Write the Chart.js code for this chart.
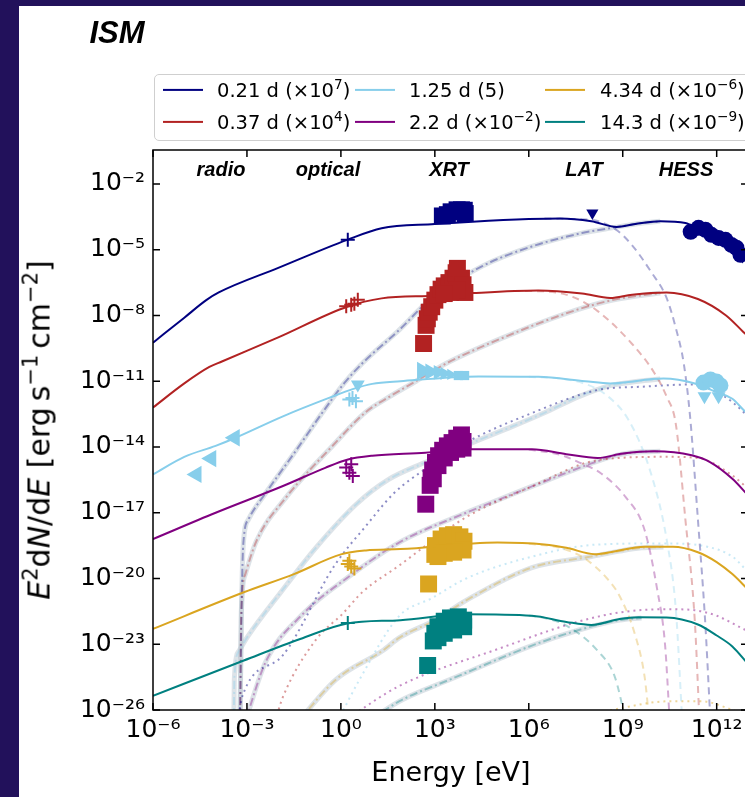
<!DOCTYPE html>
<html><head><meta charset="utf-8">
<script src="https://cdn.jsdelivr.net/npm/chart.js@4.4.1/dist/chart.umd.min.js"></script>
<style>
html,body{margin:0;padding:0;width:745px;height:797px;overflow:hidden;background:#22115b;}
#white{position:absolute;left:19px;top:6px;width:800px;height:800px;background:#fff;}
#c{position:absolute;left:0;top:0;}
.lbl{position:absolute;font-family:"Liberation Sans",Arial,sans-serif;font-weight:bold;font-style:italic;color:#000;white-space:nowrap;transform:translate(-50%,-50%);}
.dv{position:absolute;font-family:"DejaVu Sans",sans-serif;color:#000;white-space:nowrap;}
sup{font-size:0.7em;vertical-align:0.55em;line-height:0;}
#legend{position:absolute;left:154px;top:74px;width:620px;height:65px;border:1px solid #cfcfcf;border-radius:5px;background:#fff;font-family:"DejaVu Sans",sans-serif;font-size:19.5px;}
.li{position:absolute;white-space:nowrap;transform:translateY(-50%);}
.sw{position:absolute;height:2.2px;width:40px;transform:translateY(-50%);}
</style></head>
<body>
<div id="white"></div>
<canvas id="c" width="760" height="797" style="width:760px;height:797px"></canvas>
<div class="lbl" style="left:117px;top:33px;font-size:31px;">ISM</div>
<div id="legend"></div>
<div class="lbl" style="left:221px;top:169px;font-size:20px;">radio</div>
<div class="lbl" style="left:328px;top:169px;font-size:20px;">optical</div>
<div class="lbl" style="left:449px;top:169px;font-size:20px;">XRT</div>
<div class="lbl" style="left:584px;top:169px;font-size:20px;">LAT</div>
<div class="lbl" style="left:686px;top:169px;font-size:20px;">HESS</div>
<div class="dv" style="left:39px;top:430px;font-size:30px;transform:translate(-50%,-50%) rotate(-90deg);"><i>E</i><sup>2</sup>d<i>N</i>/d<i>E</i> [erg&#8201;s<sup>−1</sup>&#8201;cm<sup>−2</sup>]</div>
<div class="dv" style="left:451px;top:771px;font-size:27px;transform:translate(-50%,-50%);">Energy [eV]</div>
<script>
// ---- values, as [log10(E / eV), log10(E^2 dN/dE)] ----
const xTickExp = [-6, -3, 0, 3, 6, 9, 12];
const yTickExp = [-26, -23, -20, -17, -14, -11, -8, -5, -2];
const epochLabels = ['0.21 d (×10<sup>7</sup>)', '0.37 d (×10<sup>4</sup>)', '1.25 d (5)', '2.2 d (×10<sup>−2</sup>)', '4.34 d (×10<sup>−6</sup>)', '14.3 d (×10<sup>−9</sup>)'];
const epochColors = ['#000080', '#b22222', '#87ceeb', '#800080', '#daa520', '#008080'];

// total model (solid)
const navyTotal = [[-6,-9.24],[-5,-8.1],[-4.3,-7.3],[-3.9,-6.95],[-2,-5.83],[0.2,-4.55],[1.3,-4.02],[3.0,-3.83],[4.2,-3.72],[6.0,-3.6],[7.0,-3.57],[8.0,-3.7],[8.8,-3.96],[9.4,-3.83],[10.2,-3.7],[11.0,-3.78],[11.4,-4.05],[12.0,-4.55],[12.5,-5.0],[13,-5.5]];
const redTotal = [[-6,-12.2],[-5,-11.1],[-4.2,-10.35],[-3.8,-10.1],[-2,-9.0],[0.2,-7.6],[1.3,-7.22],[3,-7.1],[4.2,-6.98],[6.3,-6.86],[7.7,-7.0],[8.6,-7.2],[9.3,-7.05],[10.4,-6.95],[11.4,-7.25],[12.3,-8.0],[12.85,-8.75],[13,-8.95]];
const skyTotal = [[-6,-15.25],[-5,-14.45],[-4,-13.95],[-3.4,-13.6],[-1.85,-12.6],[-0.36,-11.75],[0.4,-11.35],[1.0,-11.12],[1.9,-11.0],[4.4,-10.78],[6.3,-10.8],[7.8,-11.0],[8.6,-11.1],[10.3,-10.88],[11.3,-11.1],[12.0,-11.5],[12.5,-11.8],[12.85,-12.3],[13,-12.5]];
const purpleTotal = [[-6,-18.2],[-4,-17.0],[-1.85,-15.78],[-0.5,-14.95],[0.2,-14.58],[1,-14.4],[2.7,-14.26],[4,-14.1],[6.1,-14.1],[7.2,-14.33],[8.2,-14.5],[9,-14.3],[10,-14.2],[11.2,-14.38],[11.8,-14.7],[12.5,-15.45],[13,-16.2]];
const goldTotal = [[-6,-22.3],[-3.1,-20.63],[-1.5,-19.8],[0,-18.9],[0.8,-18.72],[1.9,-18.66],[5,-18.36],[6.5,-18.45],[7.2,-18.6],[8.1,-18.89],[8.6,-18.8],[9.7,-18.55],[10.6,-18.55],[11.4,-18.8],[12.0,-19.25],[12.5,-19.8],[13,-20.5]];
const tealTotal = [[-6,-25.35],[-3.1,-23.74],[-1.3,-22.76],[0.2,-22.05],[1.9,-21.9],[4,-21.63],[6.1,-21.7],[7.2,-21.98],[8,-22.12],[8.9,-21.85],[9.5,-21.77],[10.4,-21.78],[11.4,-22.1],[12,-22.6],[12.5,-23.1],[13,-23.9]];

// dashed component (cut-off)
const navyDashed = [[6.5,-3.58],[7.4,-3.6],[8.1,-3.66],[8.8,-4.1],[9.3,-4.8],[9.9,-6.0],[10.4,-7.2],[10.7,-8.6],[10.95,-10.2],[11.15,-12.6],[11.4,-17.3],[11.63,-21.9],[11.8,-26.5]];
const redDashed = [[5.5,-6.88],[6.5,-6.9],[7.4,-7.15],[8.2,-7.8],[9.3,-9.3],[10.0,-10.6],[10.4,-11.7],[10.7,-13.0],[11.0,-17.3],[11.3,-21.9],[11.45,-26.5]];
const skyDashed = [[6.0,-10.8],[7.0,-10.88],[7.8,-11.12],[8.45,-11.6],[9.2,-12.8],[9.9,-15.2],[10.4,-18.2],[10.7,-21.5],[10.9,-26.5]];
const purpleDashed = [[6.0,-14.12],[7.0,-14.35],[7.6,-14.7],[8.3,-15.2],[9.1,-16.3],[9.7,-17.8],[10.1,-20.5],[10.35,-23],[10.5,-26.5]];
const goldDashed = [[6.0,-18.42],[7.0,-18.6],[7.8,-19.1],[8.5,-20.0],[8.9,-20.8],[9.4,-22.6],[9.7,-24.5],[9.85,-26.5]];
const tealDashed = [[6.0,-21.7],[6.5,-21.8],[7.2,-22.15],[8.2,-23.3],[8.75,-24.5],[9.1,-26.5]];

// dotted component
const navyDotted = [[-3.3,-26.5],[-3.13,-25.3],[-1.85,-23.5],[-0.2,-19.4],[0.8,-17.6],[1.7,-16.1],[2.7,-15.0],[4.0,-13.8],[6.1,-12.45],[8.2,-11.4],[9.6,-11.25],[11.2,-11.15],[12.0,-11.5],[12.5,-11.95],[13,-12.6]];
const redDotted = [[-2.1,-26.5],[-1.85,-25.4],[-0.8,-22.8],[0.06,-21.6],[0.7,-20.6],[1.87,-19.4],[2.71,-18.5],[4.0,-17.2],[6.1,-15.8],[8.2,-14.6],[10.4,-14.45],[11.4,-14.5],[12.5,-15.3],[13,-15.9]];
const skyDotted = [[-0.1,-26.5],[0.6,-24.6],[1.87,-21.7],[2.9,-20.9],[4.0,-20.0],[6.1,-19.0],[8.2,-18.45],[10.4,-18.4],[11.7,-18.55],[12.5,-19.0],[13,-19.7]];
const purpleDotted = [[0.1,-26.5],[1.87,-24.9],[5.05,-23.2],[7.5,-22.0],[8.9,-21.55],[10.4,-21.4],[11.3,-21.45],[12.0,-21.7],[12.85,-22.3],[13,-22.4]];
const goldDotted = [[7.3,-26.5],[9,-25.9],[10.5,-25.6],[11.5,-25.6],[12.5,-26.0],[13,-26.3]];

// thick dash-dot component
const navyDashDot = [[-3.22,-26.5],[-3.18,-22],[-3.12,-18.5],[-2.95,-17.3],[-2.4,-16.1],[-1.5,-14.3],[-0.6,-12.45],[0.1,-11.1],[0.7,-10.16],[1.87,-8.65],[2.9,-7.2],[4.5,-5.76],[6.1,-4.85],[7.7,-4.24],[8.8,-3.97],[9.5,-3.8],[10.2,-3.7]];
const redDashDot = [[-3.22,-26.5],[-3.18,-21.5],[-3.05,-19.8],[-2.7,-18.3],[-1.75,-16.3],[-0.3,-14.0],[0.8,-12.4],[1.5,-11.75],[2.4,-11.0],[3.4,-10.16],[5.2,-9.0],[7.2,-7.9],[8.5,-7.35],[9.5,-7.1],[10.2,-6.98]];
const skyDashDot = [[-3.42,-26.5],[-3.4,-24.5],[-3.25,-23.3],[-3.0,-22.7],[-1.85,-20.5],[-0.8,-18.6],[0.5,-16.6],[1.5,-15.5],[2.7,-14.7],[4.2,-13.8],[5.5,-13.05],[6.5,-12.44],[7.6,-11.7],[8.6,-11.2],[9.5,-11.0],[10.2,-10.9]];
const purpleDashDot = [[-3.05,-26.5],[-2.4,-23.8],[-1.2,-21.6],[0.27,-19.9],[1.87,-18.35],[4.0,-17.0],[5.05,-16.4],[6.1,-15.8],[8.0,-14.75],[8.9,-14.35],[9.6,-14.22],[10.2,-14.2]];
const goldDashDot = [[-1.35,-26.5],[-0.15,-24.6],[1.33,-23.3],[1.87,-22.7],[3.0,-21.9],[4.0,-21.0],[6.1,-19.5],[8.0,-19.0],[8.9,-18.75],[9.6,-18.6],[10.3,-18.56]];
const tealDashDot = [[0.9,-26.5],[1.87,-25.6],[3.5,-24.6],[4.0,-24.3],[6.1,-23.06],[7.6,-22.35],[8.9,-21.9],[9.6,-21.8]];

// data points
const navyOptical = [[0.22,-4.55]];
const navyXRT = [[3.24,-3.46],[3.4,-3.4],[3.52,-3.27],[3.71,-3.18],[3.85,-3.18],[3.94,-3.2],[3.97,-3.35]];
const navyLAT = [[8.03,-3.33]];
const navyHESS = [[11.17,-4.18],[11.42,-4.0],[11.64,-4.09],[11.83,-4.32],[12.06,-4.46],[12.28,-4.55],[12.47,-4.78],[12.63,-4.91],[12.76,-5.23]];
const navyHESSUL = [[12.82,-5.4]];
const redOptical = [[0.17,-7.58],[0.33,-7.51],[0.43,-7.46],[0.54,-7.28]];
const redXRT = [[2.64,-9.28],[2.72,-8.45],[2.76,-8.15],[2.82,-7.85],[2.9,-7.6],[3.0,-7.3],[3.1,-7.05],[3.2,-6.8],[3.3,-6.65],[3.45,-6.5],[3.58,-6.3],[3.68,-6.05],[3.72,-5.85],[3.85,-6.3],[3.9,-6.6],[3.96,-6.95],[3.7,-6.85],[3.5,-6.95],[3.3,-7.0]];
const skyRadio = [[-4.61,-15.25],[-4.14,-14.53],[-3.39,-13.58]];
const skyOpticalUL = [[0.54,-11.15]];
const skyOptical = [[0.27,-11.83],[0.37,-11.76],[0.48,-11.91]];
const skyXRTwedge = [[2.6,-10.53],[2.85,-10.57],[3.1,-10.6],[3.3,-10.65],[3.5,-10.69]];
const skyXRTwedgeSize = [10.5, 9.5, 8.5, 7.5, 6.5];
const skyXRTtail = [[3.75,-10.74],[3.95,-10.74]];
const skyHESS = [[11.58,-11.06],[11.8,-10.92],[11.99,-11.01],[12.12,-11.19]];
const skyHESSUL = [[11.61,-11.68],[12.06,-11.68]];
const purpleOptical = [[0.17,-14.94],[0.27,-15.17],[0.38,-15.32],[0.33,-14.79]];
const purpleXRT = [[2.71,-16.61],[2.85,-15.75],[2.88,-15.4],[2.93,-15.05],[3.02,-14.7],[3.12,-14.4],[3.25,-14.15],[3.4,-13.95],[3.55,-13.8],[3.7,-13.6],[3.85,-13.45],[3.9,-13.75],[3.9,-14.05],[3.7,-14.1],[3.5,-14.25],[3.3,-14.5],[3.1,-14.85],[2.95,-15.45]];
const goldOptical = [[0.22,-19.34],[0.33,-19.45],[0.43,-19.54],[0.27,-19.19]];
const goldXRT = [[2.8,-20.25],[3.0,-18.9],[3.02,-18.5],[3.2,-18.2],[3.4,-18.05],[3.6,-18.0],[3.8,-18.1],[3.93,-18.3],[3.9,-18.7],[3.6,-18.8],[3.3,-18.85],[3.1,-19.0]];
const tealOptical = [[0.22,-22.03]];
const tealXRT = [[2.77,-23.97],[2.95,-22.85],[3.0,-22.5],[3.1,-22.2],[3.3,-21.95],[3.5,-21.8],[3.75,-21.75],[3.92,-21.9],[3.92,-22.2],[3.6,-22.35],[3.3,-22.5],[3.1,-22.7]];

// ---- build ----
const toPts = arr => arr.map(([e, f]) => ({x: Math.pow(10, e), y: Math.pow(10, f)}));
function rgba(hex, a){const n=parseInt(hex.slice(1),16);return `rgba(${n>>16},${(n>>8)&255},${n&255},${a})`;}
function curve(arr, color, width, dash, order){
  return {data: toPts(arr), borderColor: color, borderWidth: width, borderDash: dash, pointRadius: 0, pointHoverRadius: 0, fill: false, showLine: true, cubicInterpolationMode: 'monotone', order};
}
function marks(arr, style, color, radius, rot){
  return {data: toPts(arr), showLine: false, pointStyle: style, pointRadius: radius, pointHoverRadius: radius, rotation: rot || 0, backgroundColor: color, borderColor: color, borderWidth: style === 'cross' ? 2 : 0, order: 0};
}
const totals = [navyTotal, redTotal, skyTotal, purpleTotal, goldTotal, tealTotal];
const dashedSets = [navyDashed, redDashed, skyDashed, purpleDashed, goldDashed, tealDashed];
const dottedSets = [navyDotted, redDotted, skyDotted, purpleDotted, goldDotted];
const dashDotSets = [navyDashDot, redDashDot, skyDashDot, purpleDashDot, goldDashDot, tealDashDot];
const ds = [];
dashDotSets.forEach((a, i) => { ds.push(curve(a, 'rgba(180,192,204,0.45)', 5, [], 5)); ds.push(curve(a, rgba(epochColors[i], 0.35), 2, [8,3,2,3], 4)); });
dashedSets.forEach((a, i) => ds.push(curve(a, rgba(epochColors[i], 0.33), 2, [7,5], 3)));
dottedSets.forEach((a, i) => ds.push(curve(a, rgba(epochColors[i], 0.45), 2, [2,4], 3)));
totals.forEach((a, i) => ds.push(curve(a, epochColors[i], 2, [], 1)));
const C = epochColors;
ds.push(marks(navyOptical, 'cross', C[0], 7));
ds.push(marks(navyXRT, 'rect', C[0], 12));
ds.push(marks(navyLAT, 'triangle', C[0], 7, 180));
ds.push(marks(navyHESS, 'circle', C[0], 8));
ds.push(marks(navyHESSUL, 'triangle', C[0], 5, 180));
ds.push(marks(redOptical, 'cross', C[1], 7));
ds.push(marks(redXRT, 'rect', C[1], 12));
ds.push(marks(skyRadio, 'triangle', C[2], 10, 270));
ds.push(marks(skyOpticalUL, 'triangle', C[2], 8, 180));
ds.push(marks(skyOptical, 'cross', C[2], 7));
const wedge = marks(skyXRTwedge, 'triangle', C[2], 8, 90);
wedge.pointRadius = skyXRTwedgeSize; wedge.pointHoverRadius = skyXRTwedgeSize;
ds.push(wedge);
ds.push(marks(skyXRTtail, 'rect', C[2], 6.5));
ds.push(marks(skyHESS, 'circle', C[2], 8));
ds.push(marks(skyHESSUL, 'triangle', C[2], 8, 180));
ds.push(marks(purpleOptical, 'cross', C[3], 7));
ds.push(marks(purpleXRT, 'rect', C[3], 12));
ds.push(marks(goldOptical, 'cross', C[4], 7));
ds.push(marks(goldXRT, 'rect', C[4], 12));
ds.push(marks(tealOptical, 'cross', C[5], 7));
ds.push(marks(tealXRT, 'rect', C[5], 12));

const SUP = {'-':'⁻','0':'⁰','1':'¹','2':'²','3':'³','4':'⁴','5':'⁵','6':'⁶','7':'⁷','8':'⁸','9':'⁹'};
const pow10Label = v => '10' + String(Math.round(Math.log10(v))).split('').map(c => SUP[c]).join('');

const framePlugin = {
  id: 'frame',
  afterDatasetsDraw(chart){
    const {ctx, chartArea: a, scales: {x, y}} = chart;
    ctx.save();
    ctx.strokeStyle = '#000'; ctx.lineWidth = 1.5;
    ctx.strokeRect(a.left, a.top, a.right - a.left, a.bottom - a.top);
    ctx.beginPath();
    xTickExp.forEach(e => { const p = x.getPixelForValue(Math.pow(10, e)); ctx.moveTo(p, a.bottom); ctx.lineTo(p, a.bottom - 7); ctx.moveTo(p, a.top); ctx.lineTo(p, a.top + 7); });
    yTickExp.forEach(e => { const p = y.getPixelForValue(Math.pow(10, e)); ctx.moveTo(a.left, p); ctx.lineTo(a.left + 7, p); ctx.moveTo(a.right, p); ctx.lineTo(a.right - 7, p); });
    ctx.stroke(); ctx.restore();
  }
};

new Chart(document.getElementById('c'), {
  type: 'line',
  data: {datasets: ds},
  options: {
    responsive: false, animation: false, events: [],
    layout: {padding: {left: 0, top: 150, right: 11, bottom: 0}},
    plugins: {legend: {display: false}, tooltip: {enabled: false}},
    scales: {
      x: {type: 'logarithmic', min: 1e-6, max: 1e13, border: {display: false}, grid: {display: false, drawTicks: false},
          afterBuildTicks: s => { s.ticks = xTickExp.map(e => ({value: Math.pow(10, e)})); },
          afterFit: s => { s.height = 87; },
          ticks: {autoSkip: false, maxRotation: 0, padding: 5, color: '#000', font: {family: 'DejaVu Sans', size: 25}, callback: v => pow10Label(v)}},
      y: {type: 'logarithmic', min: 1e-26, max: Math.pow(10, -0.45), border: {display: false}, grid: {display: false, drawTicks: false},
          afterBuildTicks: s => { s.ticks = yTickExp.map(e => ({value: Math.pow(10, e)})); },
          afterFit: s => { s.width = 153; },
          ticks: {autoSkip: false, padding: 8, color: '#000', font: {family: 'DejaVu Sans', size: 25}, callback: v => pow10Label(v)}}
    }
  },
  plugins: [framePlugin]
});

// legend (column-major, 3 columns x 2 rows)
const leg = document.getElementById('legend');
const colX = [[8, 62], [200, 254], [390, 445]];
const rowY = [15, 47];
epochLabels.forEach((t, i) => {
  const c = Math.floor(i / 2), r = i % 2;
  const sw = document.createElement('div'); sw.className = 'sw';
  sw.style.left = colX[c][0] + 'px'; sw.style.top = rowY[r] + 'px'; sw.style.background = epochColors[i];
  leg.appendChild(sw);
  const li = document.createElement('div'); li.className = 'li';
  li.style.left = colX[c][1] + 'px'; li.style.top = rowY[r] + 'px'; li.innerHTML = t;
  leg.appendChild(li);
});
</script>
</body></html>
